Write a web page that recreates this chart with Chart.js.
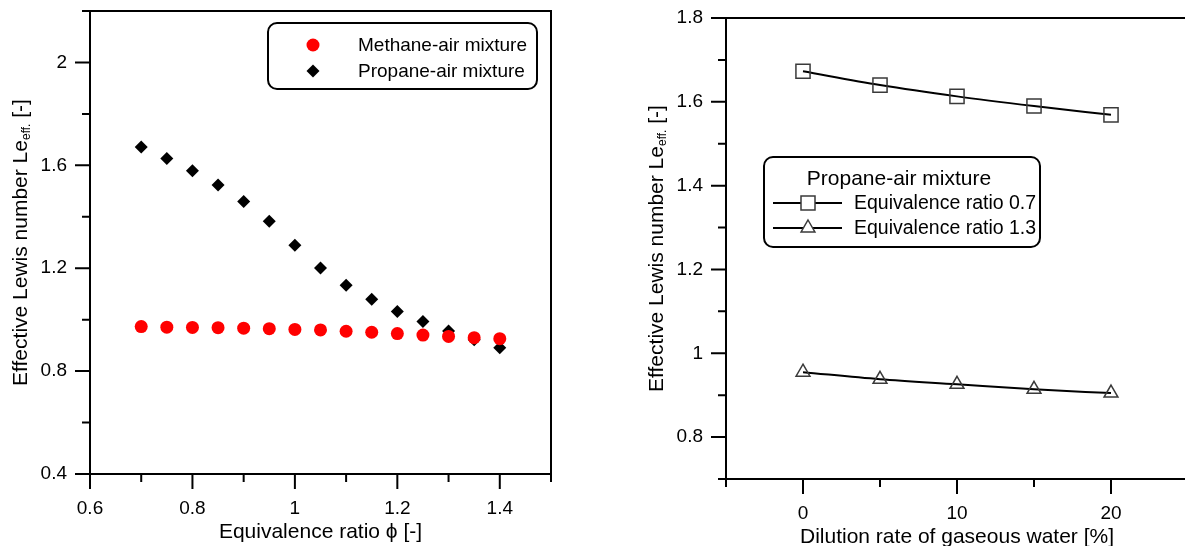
<!DOCTYPE html>
<html>
<head>
<meta charset="utf-8">
<script src="https://cdn.jsdelivr.net/npm/chart.js@4.4.0/dist/chart.umd.min.js"></script>
<style>
  html, body { margin: 0; padding: 0; background: #fff; overflow: hidden; }
  #wrap { position: relative; width: 1185px; height: 546px; overflow: hidden; }
  #leftBox { position: absolute; left: 0; top: 0; width: 600px; height: 546px; }
  #rightBox { position: absolute; left: 600px; top: 0; width: 600px; height: 546px; }
</style>
</head>
<body>
<div id="wrap">
  <div id="leftBox"><canvas id="chartLeft" width="600" height="546"></canvas></div>
  <div id="rightBox"><canvas id="chartRight" width="600" height="546"></canvas></div>
</div>
<script>
// left panel: Le_eff vs equivalence ratio
const phi = [0.7, 0.75, 0.8, 0.85, 0.9, 0.95, 1.0, 1.05, 1.1, 1.15, 1.2, 1.25, 1.3, 1.35, 1.4];
const methaneLe = [0.973, 0.971, 0.970, 0.969, 0.967, 0.965, 0.962, 0.960, 0.955, 0.951, 0.946, 0.940, 0.935, 0.930, 0.926];
const propaneLe = [1.671, 1.627, 1.579, 1.524, 1.459, 1.383, 1.289, 1.201, 1.134, 1.079, 1.032, 0.993, 0.956, 0.922, 0.891];

// right panel: Le_eff vs dilution by water vapour
const dilution = [0, 5, 10, 15, 20];
const propaneLe07 = [1.673, 1.640, 1.613, 1.590, 1.569];
const propaneLe13 = [0.955, 0.938, 0.926, 0.914, 0.905];

// labelled ticks (the rest are minor)
const phiTickLabels = ['0.6', '0.8', '1', '1.2', '1.4'];
const leLeftTickLabels = ['0.4', '0.8', '1.2', '1.6', '2'];
const dilutionTickLabels = ['0', '10', '20'];
const leRightTickLabels = ['0.8', '1', '1.2', '1.4', '1.6', '1.8'];

const FONT = "'Liberation Sans', Arial, sans-serif";

function labeler(list) {
    return function(v) {
        const s = String(Math.round(v * 100) / 100);
        return list.includes(s) ? s : '';
    };
}

function xy(xs, ys) {
    return xs.map((x, i) => ({x: x, y: ys[i]}));
}

function roundBox(ctx, x, y, w, h, r) {
    ctx.beginPath();
    ctx.moveTo(x + r, y);
    ctx.lineTo(x + w - r, y);
    ctx.arcTo(x + w, y, x + w, y + r, r);
    ctx.lineTo(x + w, y + h - r);
    ctx.arcTo(x + w, y + h, x + w - r, y + h, r);
    ctx.lineTo(x + r, y + h);
    ctx.arcTo(x, y + h, x, y + h - r, r);
    ctx.lineTo(x, y + r);
    ctx.arcTo(x, y, x + r, y, r);
    ctx.closePath();
}

function drawFrameAndTicks(chart) {
    const ctx = chart.ctx, a = chart.chartArea;
    const xs = chart.scales.x, ys = chart.scales.y;
    ctx.save();
    ctx.strokeStyle = '#000';
    ctx.lineWidth = 2;
    ctx.strokeRect(a.left, a.top, a.right - a.left, a.bottom - a.top);
    ctx.beginPath();
    xs.ticks.forEach(t => {
        const p = xs.getPixelForValue(t.value);
        const len = t.label ? 15 : 8;
        ctx.moveTo(p, a.bottom);
        ctx.lineTo(p, a.bottom + len);
    });
    ys.ticks.forEach(t => {
        const p = ys.getPixelForValue(t.value);
        const len = t.label ? 15 : 8;
        ctx.moveTo(a.left - len, p);
        ctx.lineTo(a.left, p);
    });
    ctx.stroke();
    ctx.restore();
}

function drawTitles(chart, xTitle, yX) {
    const ctx = chart.ctx, a = chart.chartArea;
    ctx.save();
    ctx.fillStyle = '#000';
    ctx.textAlign = 'center';
    ctx.textBaseline = 'middle';
    ctx.font = '21px ' + FONT;
    ctx.fillText(xTitle.text, (a.left + a.right) / 2, xTitle.y);

    // rotated y title with subscript
    const main = 'Effective Lewis number Le', sub = 'eff.', tail = ' [-]';
    ctx.font = '21px ' + FONT;
    const w1 = ctx.measureText(main).width, w3 = ctx.measureText(tail).width;
    ctx.font = '12px ' + FONT;
    const w2 = ctx.measureText(sub).width;
    const total = w1 + w2 + w3;
    ctx.translate(yX, (a.top + a.bottom) / 2);
    ctx.rotate(-Math.PI / 2);
    ctx.textAlign = 'left';
    let x0 = -total / 2;
    ctx.font = '21px ' + FONT;
    ctx.fillText(main, x0, 0);
    ctx.font = '12px ' + FONT;
    ctx.fillText(sub, x0 + w1, 6);
    ctx.font = '21px ' + FONT;
    ctx.fillText(tail, x0 + w1 + w2, 0);
    ctx.restore();
}

function scaleOpts(min, max, step, labels, size, horizontal) {
    return {
        type: 'linear',
        min: min,
        max: max,
        border: {display: false},
        grid: {display: true, drawOnChartArea: false, drawTicks: true, tickLength: 15, color: 'rgba(0,0,0,0)'},
        ticks: {
            stepSize: step,
            autoSkip: false,
            maxRotation: 0,
            maxTicksLimit: 100,
            padding: 8,
            color: '#000',
            font: {family: FONT, size: 19},
            callback: labeler(labels)
        },
        afterFit: function(s) {
            if (horizontal) { s.height = size; } else { s.width = size; }
            s.paddingTop = 0;
            s.paddingBottom = 0;
            s.paddingLeft = 0;
            s.paddingRight = 0;
        }
    };
}

const leftDecor = {
    id: 'leftDecor',
    afterDraw(chart) {
        const ctx = chart.ctx;
        drawFrameAndTicks(chart);
        drawTitles(chart, {text: 'Equivalence ratio \u03D5 [-]', y: 532}, 21);

        // legend
        ctx.save();
        ctx.strokeStyle = '#000';
        ctx.lineWidth = 2;
        roundBox(ctx, 268, 23, 269, 66, 9);
        ctx.fillStyle = '#fff';
        ctx.fill();
        ctx.stroke();
        ctx.fillStyle = '#ff0000';
        ctx.beginPath();
        ctx.arc(313, 45, 6.5, 0, Math.PI * 2);
        ctx.fill();
        ctx.fillStyle = '#000';
        ctx.beginPath();
        ctx.moveTo(313 - 6.5, 71);
        ctx.lineTo(313, 71 - 6.5);
        ctx.lineTo(313 + 6.5, 71);
        ctx.lineTo(313, 71 + 6.5);
        ctx.closePath();
        ctx.fill();
        ctx.font = '19px ' + FONT;
        ctx.textAlign = 'left';
        ctx.textBaseline = 'middle';
        ctx.fillText('Methane-air mixture', 358, 46);
        ctx.fillText('Propane-air mixture', 358, 72);
        ctx.restore();
    }
};

const rightDecor = {
    id: 'rightDecor',
    afterDraw(chart) {
        const ctx = chart.ctx;
        drawFrameAndTicks(chart);
        drawTitles(chart, {text: 'Dilution rate of gaseous water [%]', y: 537}, 57);

        // legend
        ctx.save();
        ctx.strokeStyle = '#000';
        ctx.lineWidth = 2;
        roundBox(ctx, 164, 157, 276, 90, 9);
        ctx.fillStyle = '#fff';
        ctx.fill();
        ctx.stroke();
        ctx.fillStyle = '#000';
        ctx.font = '21px ' + FONT;
        ctx.textAlign = 'center';
        ctx.textBaseline = 'middle';
        ctx.fillText('Propane-air mixture', 299, 179);
        ctx.font = '19.5px ' + FONT;
        ctx.textAlign = 'left';
        ctx.fillText('Equivalence ratio 0.7', 254, 204);
        ctx.fillText('Equivalence ratio 1.3', 254, 229);
        ctx.beginPath();
        ctx.moveTo(173, 203); ctx.lineTo(242, 203);
        ctx.moveTo(173, 228); ctx.lineTo(242, 228);
        ctx.stroke();
        ctx.strokeStyle = '#3a3a3a';
        ctx.lineWidth = 1.5;
        ctx.fillStyle = '#fff';
        ctx.beginPath();
        ctx.rect(208 - 7, 203 - 7, 14, 14);
        ctx.fill();
        ctx.stroke();
        ctx.beginPath();
        ctx.moveTo(208, 228 - 8);
        ctx.lineTo(208 + 6.9, 228 + 4);
        ctx.lineTo(208 - 6.9, 228 + 4);
        ctx.closePath();
        ctx.fill();
        ctx.stroke();
        ctx.restore();
    }
};

document.addEventListener('DOMContentLoaded', function() {
    new Chart(document.getElementById('chartLeft'), {
        type: 'scatter',
        data: {
            datasets: [{
                label: 'Methane-air mixture',
                data: xy(phi, methaneLe),
                pointStyle: 'circle',
                pointRadius: 6.5,
                backgroundColor: '#ff0000',
                borderWidth: 0
            }, {
                label: 'Propane-air mixture',
                data: xy(phi, propaneLe),
                pointStyle: 'rectRot',
                pointRadius: 6.5,
                backgroundColor: '#000',
                borderWidth: 0
            }]
        },
        options: {
            responsive: false,
            animation: false,
            devicePixelRatio: 1,
            layout: {padding: {left: 0, top: 11, right: 49, bottom: 0}},
            plugins: {legend: {display: false}, tooltip: {enabled: false}},
            scales: {
                x: scaleOpts(0.6, 1.5, 0.1, phiTickLabels, 72, true),
                y: scaleOpts(0.4, 2.2, 0.2, leLeftTickLabels, 90, false)
            }
        },
        plugins: [leftDecor]
    });

    new Chart(document.getElementById('chartRight'), {
        type: 'scatter',
        data: {
            datasets: [{
                label: 'Equivalence ratio 0.7',
                data: xy(dilution, propaneLe07),
                showLine: true,
                cubicInterpolationMode: 'monotone',
                borderColor: '#000',
                borderWidth: 2,
                pointStyle: 'rect',
                pointRadius: 10,
                pointBorderColor: '#3a3a3a',
                pointBorderWidth: 1.5,
                pointBackgroundColor: 'rgba(0,0,0,0)'
            }, {
                label: 'Equivalence ratio 1.3',
                data: xy(dilution, propaneLe13),
                showLine: true,
                cubicInterpolationMode: 'monotone',
                borderColor: '#000',
                borderWidth: 2,
                pointStyle: 'triangle',
                pointRadius: 8,
                pointBorderColor: '#3a3a3a',
                pointBorderWidth: 1.5,
                pointBackgroundColor: 'rgba(0,0,0,0)'
            }]
        },
        options: {
            responsive: false,
            animation: false,
            devicePixelRatio: 1,
            layout: {padding: {left: 0, top: 18, right: 12, bottom: 0}},
            plugins: {legend: {display: false}, tooltip: {enabled: false}},
            scales: {
                x: scaleOpts(-5, 25, 5, dilutionTickLabels, 67, true),
                y: scaleOpts(0.7, 1.8, 0.1, leRightTickLabels, 126, false)
            }
        },
        plugins: [rightDecor]
    });
});
</script>
</body>
</html>
